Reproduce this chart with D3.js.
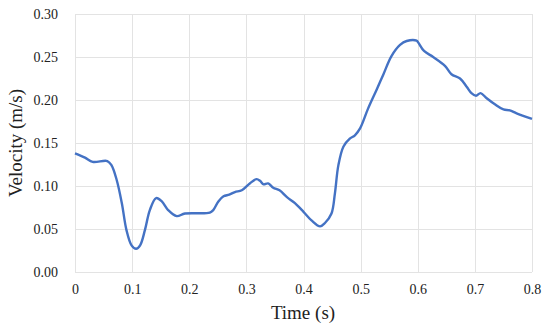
<!DOCTYPE html>
<html lang="en">
<head>
<meta charset="UTF-8">
<title>Velocity</title>
<script src="https://cdn.jsdelivr.net/npm/d3@7"></script>
<style>
  * { margin: 0; padding: 0; }
  body { background: #fff; }
  svg text { font-family: "Liberation Serif", "Times New Roman", serif !important; fill: #222; }
</style>
</head>
<body>
<div id="chart"></div>
<script>
// data
const time = [0, 0.0175, 0.031, 0.0566, 0.064, 0.073, 0.082, 0.090, 0.099, 0.107, 0.114, 0.1225, 0.131, 0.142, 0.152, 0.163, 0.178, 0.1925, 0.236, 0.242, 0.251, 0.260, 0.270, 0.280, 0.292, 0.306, 0.318, 0.324, 0.330, 0.338, 0.347, 0.358, 0.371, 0.385, 0.400, 0.414, 0.429, 0.4376, 0.449, 0.455, 0.461, 0.470, 0.481, 0.490, 0.499, 0.513, 0.528, 0.540, 0.554, 0.569, 0.5806, 0.598, 0.601, 0.611, 0.627, 0.648, 0.659, 0.674, 0.6856, 0.694, 0.702, 0.710, 0.7207, 0.735, 0.750, 0.761, 0.773, 0.800];
const velocity = [0.138, 0.133, 0.128, 0.129, 0.124, 0.107, 0.080, 0.049, 0.031, 0.027, 0.031, 0.049, 0.072, 0.086, 0.082, 0.072, 0.065, 0.068, 0.069, 0.072, 0.082, 0.088, 0.090, 0.093, 0.095, 0.103, 0.108, 0.106, 0.102, 0.103, 0.098, 0.095, 0.087, 0.080, 0.070, 0.060, 0.053, 0.057, 0.068, 0.0915, 0.124, 0.146, 0.155, 0.159, 0.167, 0.190, 0.212, 0.230, 0.251, 0.264, 0.2686, 0.269, 0.2667, 0.257, 0.250, 0.2395, 0.230, 0.225, 0.2155, 0.208, 0.205, 0.208, 0.202, 0.195, 0.189, 0.188, 0.1845, 0.178];
const xTicks = [0, 0.1, 0.2, 0.3, 0.4, 0.5, 0.6, 0.7, 0.8];
const yTicks = [0, 0.05, 0.10, 0.15, 0.20, 0.25, 0.30];

const fontFamily = '"Liberation Serif", "Times New Roman", serif';
const svgWidth = 550;
const svgHeight = 333;
const margin = { top: 14, right: 18, bottom: 61, left: 75 };
const w = svgWidth - margin.left - margin.right;
const h = svgHeight - margin.top - margin.bottom;

const svg = d3.select('#chart')
  .append('svg')
  .attr('width', svgWidth)
  .attr('height', svgHeight)
  .attr('font-family', fontFamily);

const g = svg.append('g')
  .attr('transform', `translate(${margin.left},${margin.top})`);

const x = d3.scaleLinear().domain([0, 0.8]).range([0, w]);
const y = d3.scaleLinear().domain([0, 0.30]).range([h, 0]);

// grid
g.append('g')
  .selectAll('line')
  .data(yTicks)
  .enter()
  .append('line')
  .attr('x1', 0).attr('x2', w)
  .attr('y1', d => Math.round(y(d)) + 0.5)
  .attr('y2', d => Math.round(y(d)) + 0.5)
  .attr('stroke', '#e3e3e3');

g.append('g')
  .selectAll('line')
  .data(xTicks)
  .enter()
  .append('line')
  .attr('y1', 0).attr('y2', h)
  .attr('x1', d => Math.round(x(d)) + 0.5)
  .attr('x2', d => Math.round(x(d)) + 0.5)
  .attr('stroke', '#e3e3e3');

// axes
const xAxisG = g.append('g')
  .attr('transform', `translate(0,${h})`)
  .call(d3.axisBottom(x).tickValues(xTicks).tickFormat(d => d === 0 ? '0' : d3.format('.1f')(d)).tickSize(0).tickPadding(12))
  .attr('font-family', fontFamily);
xAxisG.select('path').remove();
xAxisG.selectAll('text').attr('font-size', '14px').attr('fill', '#222').style('font-family', fontFamily);

const yAxisG = g.append('g')
  .call(d3.axisLeft(y).tickValues(yTicks).tickFormat(d3.format('.2f')).tickSize(0).tickPadding(17))
  .attr('font-family', fontFamily);
yAxisG.select('path').remove();
yAxisG.selectAll('text').attr('font-size', '14px').attr('fill', '#222').style('font-family', fontFamily);

// line
const line = d3.line()
  .x((d, i) => x(time[i]))
  .y(d => y(d))
  .curve(d3.curveCatmullRom.alpha(0.5));

g.append('path')
  .datum(velocity)
  .attr('d', line)
  .attr('fill', 'none')
  .attr('stroke', '#4472c4')
  .attr('stroke-width', 2.4)
  .attr('stroke-linejoin', 'round');

// titles
svg.append('text')
  .attr('x', 303)
  .attr('y', 319)
  .attr('text-anchor', 'middle')
  .attr('font-size', '19px')
  .style('font-family', fontFamily)
  .text('Time (s)');

svg.append('text')
  .attr('transform', 'translate(22,143) rotate(-90)')
  .attr('text-anchor', 'middle')
  .attr('font-size', '19px')
  .style('font-family', fontFamily)
  .text('Velocity (m/s)');
</script>
</body>
</html>
